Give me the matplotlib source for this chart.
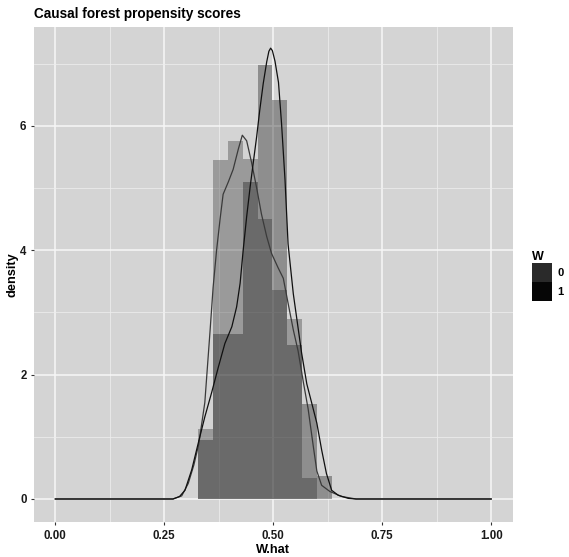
import matplotlib
matplotlib.use("Agg")
import matplotlib.pyplot as plt
from matplotlib.patches import Patch
from matplotlib.ticker import MultipleLocator

plt.rcParams['font.family'] = ['Liberation Sans', 'DejaVu Sans']

# histogram bins (W.hat) and densities per group
bin_edges = [0.328, 0.362, 0.396, 0.430, 0.464, 0.498, 0.532, 0.566, 0.600, 0.634]
hist_w0 = [1.13, 5.45, 5.76, 5.46, 4.50, 3.36, 2.89, 0.33, 0.0]
hist_w1 = [0.95, 2.65, 2.65, 5.09, 6.98, 6.42, 2.47, 1.52, 0.37]

# density curves
dens_x_w0 = [0.0, 0.27, 0.29, 0.305, 0.318, 0.329, 0.343, 0.355, 0.362, 0.370, 0.378,
             0.385, 0.397, 0.408, 0.420, 0.429, 0.439, 0.450, 0.462, 0.473, 0.485,
             0.496, 0.511, 0.523, 0.534, 0.546, 0.557, 0.569, 0.580, 0.592, 0.600,
             0.611, 0.630, 0.657, 0.69, 1.0]
dens_y_w0 = [0, 0, 0.05, 0.25, 0.55, 0.88, 1.55, 2.7, 3.4, 4.0, 4.5,
             4.9, 5.10, 5.30, 5.63, 5.85, 5.76, 5.42, 5.0, 4.58, 4.22,
             3.95, 3.72, 3.55, 3.15, 2.72, 2.38, 1.88, 1.45, 0.84, 0.45,
             0.22, 0.12, 0.04, 0, 0]
dens_x_w1 = [0.0, 0.27, 0.285, 0.2975, 0.313, 0.328, 0.343, 0.359, 0.374, 0.389, 0.405,
             0.416, 0.424, 0.431, 0.439, 0.447, 0.454, 0.462, 0.469, 0.477, 0.485,
             0.490, 0.494, 0.498, 0.504, 0.512, 0.519, 0.527, 0.534, 0.546, 0.556,
             0.565, 0.577, 0.588, 0.600, 0.611, 0.622, 0.634, 0.649, 0.672, 0.69, 1.0]
dens_y_w1 = [0, 0, 0.04, 0.14, 0.47, 0.9, 1.32, 1.72, 2.12, 2.5, 2.77,
             3.09, 3.47, 4.0, 4.54, 5.02, 5.40, 5.83, 6.25, 6.68, 7.03,
             7.20, 7.25, 7.21, 7.04, 6.70, 6.04, 5.13, 4.1, 3.3, 2.8,
             2.35, 1.85, 1.55, 1.22, 0.79, 0.41, 0.14, 0.06, 0.01, 0, 0]

groups = ["0", "1"]
bar_colors = ["#3c3c3c", "#1c1c1c"]
key_colors = ["#2a2a2a", "#060606"]
line_colors = ["#3a3a3a", "#101010"]

fig = plt.figure(figsize=(5.69, 5.57), dpi=100)
ax = fig.add_axes([33.5/569, 1-522/557, (513-33.5)/569, (522-27)/557])
ax.set_facecolor("#d4d4d4")

widths = [bin_edges[i+1] - bin_edges[i] for i in range(len(bin_edges)-1)]
ax.bar(bin_edges[:-1], hist_w0, width=widths, align="edge", color=bar_colors[0],
       alpha=0.38, linewidth=0, zorder=2)
ax.bar(bin_edges[:-1], hist_w1, width=widths, align="edge", color=bar_colors[1],
       alpha=0.38, linewidth=0, zorder=2)
ax.plot(dens_x_w0, dens_y_w0, color=line_colors[0], lw=0.9, zorder=3)
ax.plot(dens_x_w1, dens_y_w1, color=line_colors[1], lw=0.9, zorder=3)

ax.set_xlim(-0.05, 1.05)
ax.set_ylim(-0.37, 7.59)
ax.xaxis.set_major_locator(MultipleLocator(0.25))
ax.xaxis.set_minor_locator(MultipleLocator(0.125))
ax.yaxis.set_major_locator(MultipleLocator(2))
ax.yaxis.set_minor_locator(MultipleLocator(1))
ax.set_xticks([0, 0.25, 0.5, 0.75, 1.0])
ax.set_xticklabels(["0.00", "0.25", "0.50", "0.75", "1.00"])
ax.grid(which="major", color="#f7f7f7", lw=1.1, zorder=0)
ax.grid(which="minor", color="#ededed", lw=0.55, zorder=0)
ax.set_axisbelow(True)
for s in ax.spines.values():
    s.set_visible(False)
ax.tick_params(which="major", length=2.5, width=0.8, color="#333333",
               labelsize=8.3, labelcolor="#1a1a1a")
ax.tick_params(which="minor", length=0)
ax.tick_params(axis="x", pad=3.5)
ax.tick_params(axis="y", pad=2.5)
for lab in ax.get_xticklabels() + ax.get_yticklabels():
    lab.set_fontweight("bold")

ax.set_xlabel("W.hat", fontsize=9.2, fontweight="bold", labelpad=1)
ax.set_ylabel("density", fontsize=9.2, fontweight="bold", labelpad=1)

fig.text(33.5/569, 1-14/557, "Causal forest propensity scores", fontsize=9.8,
         fontweight="bold", ha="left", va="center")

handles = [Patch(facecolor=c, edgecolor="none") for c in key_colors]
leg = ax.legend(handles, groups, title="W", loc="center left",
                bbox_to_anchor=(532/569, 1-276/557), bbox_transform=fig.transFigure,
                frameon=False, fontsize=8, title_fontsize=9, borderpad=0,
                handlelength=1.8, handleheight=2.3, labelspacing=0,
                handletextpad=0.5, borderaxespad=0, alignment="left")
leg.get_title().set_fontweight("bold")
for t in leg.get_texts():
    t.set_fontweight("bold")

fig.savefig("out.png", dpi=100)
